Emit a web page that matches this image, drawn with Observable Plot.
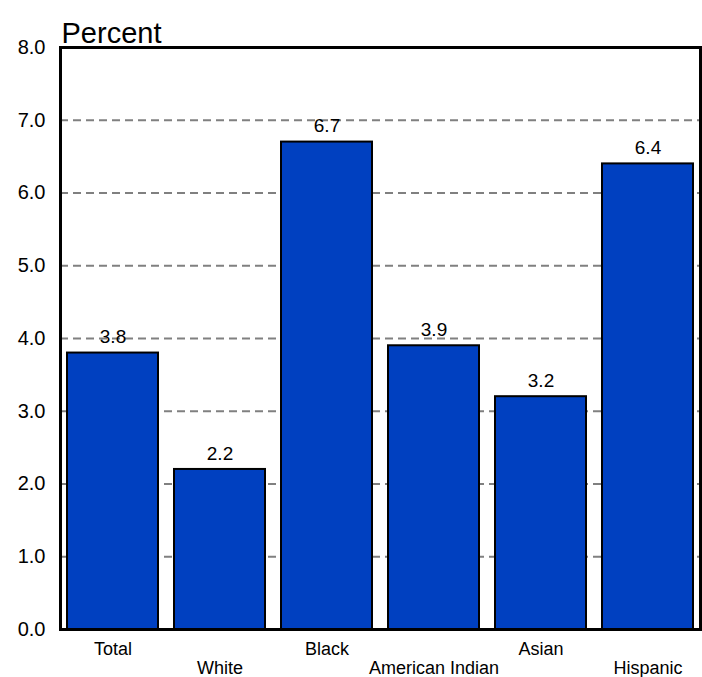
<!DOCTYPE html>
<html>
<head>
<meta charset="utf-8">
<script src="https://cdn.jsdelivr.net/npm/d3@7"></script>
<script src="https://cdn.jsdelivr.net/npm/@observablehq/plot@0.6"></script>
<style>
  html, body { margin: 0; padding: 0; background: #fff; }
  #chart svg { display: block; font-family: "Liberation Sans", Arial, sans-serif; }
</style>
</head>
<body>
<div id="chart"></div>
<script>
const categories = ["Total", "White", "Black", "American Indian", "Asian", "Hispanic"];
const values = [3.8, 2.2, 6.7, 3.9, 3.2, 6.4];
const yTicks = [0, 1, 2, 3, 4, 5, 6, 7, 8];
const gridTicks = [1, 2, 3, 4, 5, 6, 7];
const upperRowLabels = ["Total", "Black", "Asian"];
const lowerRowLabels = ["White", "American Indian", "Hispanic"];
const yLabel = "Percent";

const data = categories.map((c, i) => ({category: c, value: values[i]}));

const chart = Plot.plot({
  width: 702,
  height: 677,
  marginTop: 47,
  marginBottom: 48,
  marginLeft: 60,
  marginRight: 2,
  style: {fontFamily: "Liberation Sans, Arial, sans-serif", background: "#fff", overflow: "visible"},
  x: {domain: categories, paddingInner: 0.15, paddingOuter: 0.065, label: null},
  y: {domain: [0, 8], label: null},
  marks: [
    Plot.gridY(gridTicks, {stroke: "#808080", strokeOpacity: 1, strokeWidth: 2, strokeDasharray: "8,5"}),
    Plot.barY(data, {x: "category", y: "value", fill: "#0040C0", stroke: "#000", strokeWidth: 2}),
    Plot.text(data, {x: "category", y: "value", text: d => d.value.toFixed(1), dy: -16, fontSize: 19, fill: "#000"}),
    Plot.axisY({ticks: yTicks, tickFormat: d => d.toFixed(1), tickSize: 0, tickPadding: 15, fontSize: 20, label: null}),
    Plot.axisX({ticks: upperRowLabels, tickSize: 0, tickPadding: 13, fontSize: 18, label: null}),
    Plot.axisX({ticks: lowerRowLabels, tickSize: 0, tickPadding: 32, fontSize: 18, label: null}),
    Plot.frame({stroke: "#000", strokeWidth: 3}),
    Plot.text([yLabel], {text: d => d, frameAnchor: "top-left", textAnchor: "start", lineAnchor: "bottom", dx: 1, dy: -5, fontSize: 29, fill: "#000"})
  ]
});
document.getElementById("chart").appendChild(chart);
</script>
</body>
</html>
